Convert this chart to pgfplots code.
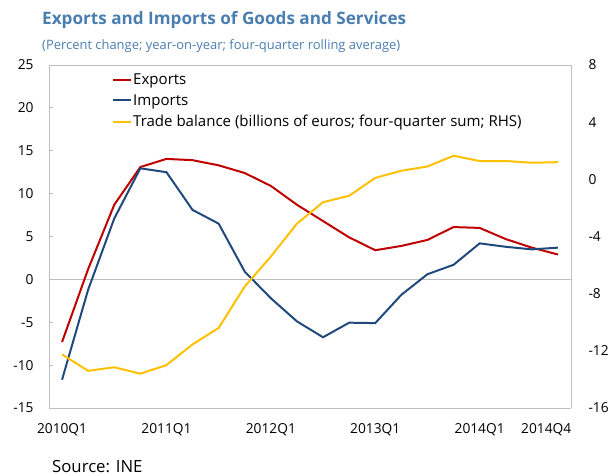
\documentclass[border=0pt]{standalone}
\usepackage{fontspec}
\setmainfont{Open Sans}
\usepackage{pgfplots}
\pgfplotsset{compat=1.18}
\definecolor{titleblue}{RGB}{74,126,176}
\definecolor{expred}{RGB}{192,0,0}
\definecolor{impblue}{RGB}{31,73,125}
\definecolor{tbyellow}{RGB}{255,192,0}
\definecolor{axgray}{RGB}{190,190,190}
\begin{document}
\begin{tikzpicture}
\useasboundingbox (0bp,0bp) rectangle (615bp,476bp);
\node[anchor=west,text=titleblue,font=\bfseries\fontsize{17.2}{20}\selectfont,inner sep=0] at (42bp,456bp) {Exports and Imports of Goods and Services};
\node[anchor=west,text=titleblue,font=\fontsize{13}{15}\selectfont,inner sep=0] at (42bp,430bp) {(Percent change; year-on-year; four-quarter rolling average)};
\node[anchor=west,font=\fontsize{16.8}{19}\selectfont,inner sep=0] at (52bp,9bp) {Source: INE};
\begin{axis}[
  at={(49bp,68bp)}, anchor=south west,
  scale only axis, width=522bp, height=343bp,
  xmin=-0.5, xmax=19.5, ymin=-15, ymax=25,
  axis y line*=left, axis x line*=bottom,
  axis line style={axgray, line width=0.8pt},
  ytick={-15,-10,...,25},
  xtick={0,4,8,12,16,18.55},
  xticklabels={2010Q1,2011Q1,2012Q1,2013Q1,2014Q1,2014Q4},
  x tick style={draw=none},
  y tick style={axgray, line width=0.8pt},
  tick align=inside, major tick length=4bp,
  tick label style={font=\fontsize{13.8}{16}\selectfont},
  /pgf/number format/assume math mode=true,
  yticklabel style={anchor=east, xshift=-12bp},
  xticklabel style={anchor=center, yshift=-22bp},
  legend style={at={(0.1207,0.98)}, anchor=north west, draw=none, fill=none,
    font=\fontsize{15.1}{17}\selectfont, row sep=5.5bp, inner sep=0bp,
    nodes={inner xsep=1bp, inner ysep=1.5bp}},
  legend cell align=left,
  legend image code/.code={\draw[#1] (0bp,0bp) -- (18bp,0bp);},
]
\addplot[axgray, line width=0.8pt, forget plot] coordinates {(-0.5,0) (19.5,0)};
\addplot[expred, line width=2pt] coordinates {
(0,-7.3) (1,1.2) (2,8.7) (3,13.1) (4,14.05) (5,13.9) (6,13.3) (7,12.4) (8,10.9) (9,8.7)
(10,6.8) (11,4.9) (12,3.4) (13,3.9) (14,4.6) (15,6.1) (16,6.0) (17,4.7) (18,3.7) (19,2.9)};
\addlegendentry{Exports}
\addplot[impblue, line width=2pt] coordinates {
(0,-11.7) (1,-1.2) (2,7.1) (3,12.95) (4,12.5) (5,8.1) (6,6.5) (7,0.9) (8,-2.2) (9,-4.9)
(10,-6.75) (11,-5.05) (12,-5.1) (13,-1.8) (14,0.6) (15,1.7) (16,4.2) (17,3.8) (18,3.5) (19,3.7)};
\addlegendentry{Imports}
\addlegendimage{tbyellow, line width=2pt}
\addlegendentry{Trade balance (billions of euros; four-quarter sum; RHS)}
\end{axis}
\begin{axis}[
  at={(49bp,68bp)}, anchor=south west,
  scale only axis, width=522bp, height=343bp,
  xmin=-0.5, xmax=19.5, ymin=-16, ymax=8,
  axis y line*=right, axis x line*=top,
  axis line style={axgray, line width=0.8pt},
  ytick={-16,-12,...,8},
  xtick=\empty,
  y tick style={draw=none},
  tick label style={font=\fontsize{13.8}{16}\selectfont},
  /pgf/number format/assume math mode=true,
  yticklabel style={anchor=west, xshift=14bp},
]
\addplot[tbyellow, line width=2pt] coordinates {
(0,-12.25) (1,-13.4) (2,-13.15) (3,-13.6) (4,-13.0) (5,-11.55) (6,-10.4) (7,-7.5) (8,-5.4) (9,-3.1)
(10,-1.6) (11,-1.15) (12,0.1) (13,0.6) (14,0.9) (15,1.65) (16,1.28) (17,1.28) (18,1.16) (19,1.2)};
\end{axis}
\end{tikzpicture}
\end{document}
